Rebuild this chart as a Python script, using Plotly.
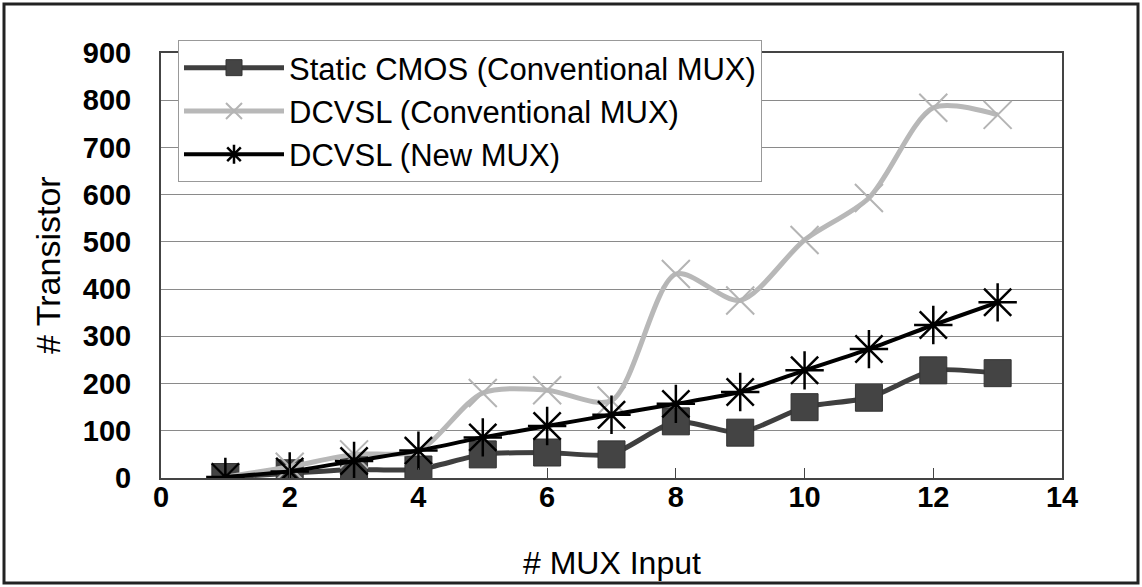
import plotly.graph_objects as go

mux_inputs = [1, 2, 3, 4, 5, 6, 7, 8, 9, 10, 11, 12, 13]
static_cmos = [2, 10, 18, 18, 50, 54, 50, 120, 96, 150, 170, 228, 222]
dcvsl_conv = [2, 24, 50, 58, 180, 186, 164, 432, 376, 504, 593, 784, 769]
dcvsl_new = [2, 14, 36, 58, 86, 110, 134, 157, 182, 228, 273, 324, 372]

names = ["Static CMOS (Conventional MUX)", "DCVSL (Conventional MUX)", "DCVSL (New MUX)"]
y_ticks = [0, 100, 200, 300, 400, 500, 600, 700, 800, 900]
x_ticks = [0, 2, 4, 6, 8, 10, 12, 14]

FONT = "Liberation Sans, Arial, sans-serif"

fig = go.Figure()
fig.add_trace(go.Scatter(
    x=mux_inputs, y=static_cmos, name=names[0], mode="lines+markers",
    line=dict(color="#3f3f3f", width=5, shape="spline", smoothing=0.6),
    marker=dict(symbol="square", size=27, color="#444444",
                line=dict(color="#333333", width=1))))
fig.add_trace(go.Scatter(
    x=mux_inputs, y=dcvsl_conv, name=names[1], mode="lines+markers",
    line=dict(color="#b8b8b8", width=5, shape="spline", smoothing=0.8),
    marker=dict(symbol="x-thin-open", size=28, color="#b4b4b4",
                line=dict(color="#b4b4b4", width=2))))
fig.add_trace(go.Scatter(
    x=mux_inputs, y=dcvsl_new, name=names[2], mode="lines+markers",
    line=dict(color="#000000", width=4, shape="spline", smoothing=0.6),
    marker=dict(symbol="asterisk-open", size=32, color="#000000",
                line=dict(color="#000000", width=2.5))))

pw, ph = 901, 425
L, T = 161, 53
fig.update_layout(
    width=1142, height=587,
    margin=dict(l=L, r=1142 - L - pw, t=T, b=587 - T - ph),
    paper_bgcolor="white", plot_bgcolor="white",
    font=dict(family=FONT, color="black"),
    showlegend=True,
    legend=dict(x=(178 - L) / pw, y=(478 - 40) / ph, xanchor="left", yanchor="top",
                bgcolor="white", bordercolor="#999999", borderwidth=1,
                font=dict(size=31, family=FONT, color="black"),
                itemwidth=100, tracegroupgap=0),
    xaxis=dict(range=[0, 14], tickvals=x_ticks, ticktext=[str(v) for v in x_ticks],
               showgrid=False, zeroline=False, showline=True, linecolor="#444444",
               linewidth=2, mirror=True, ticks="inside", ticklen=10, tickcolor="#444444",
               tickfont=dict(size=29, family=FONT, weight="bold"),
               ticklabelstandoff=-8),
    yaxis=dict(range=[0, 900], tickvals=y_ticks, ticktext=[str(v) for v in y_ticks],
               showgrid=True, gridcolor="#8a8a8a", gridwidth=1, zeroline=False,
               showline=True, linecolor="#444444", linewidth=2, mirror=True,
               ticks="", tickfont=dict(size=29, family=FONT, weight="bold"),
               ticklabelstandoff=22),
    annotations=[
        dict(text="# MUX Input", xref="paper", yref="paper",
             x=0.5, y=(478 - 563) / ph, xanchor="center", yanchor="middle",
             showarrow=False, font=dict(size=32, family=FONT, color="black")),
        dict(text="# Transistor", xref="paper", yref="paper",
             x=(48 - L) / pw, y=(478 - 265) / ph, xanchor="center", yanchor="middle",
             textangle=-90, showarrow=False, font=dict(size=34, family=FONT, color="black")),
    ],
    shapes=[dict(type="rect", xref="paper", yref="paper",
                 x0=(4 - L) / pw, x1=(1138 - L) / pw,
                 y0=(478 - 583) / ph, y1=(478 - 4) / ph,
                 line=dict(color="#222222", width=3), layer="below")],
)

fig.write_html("out.html")
